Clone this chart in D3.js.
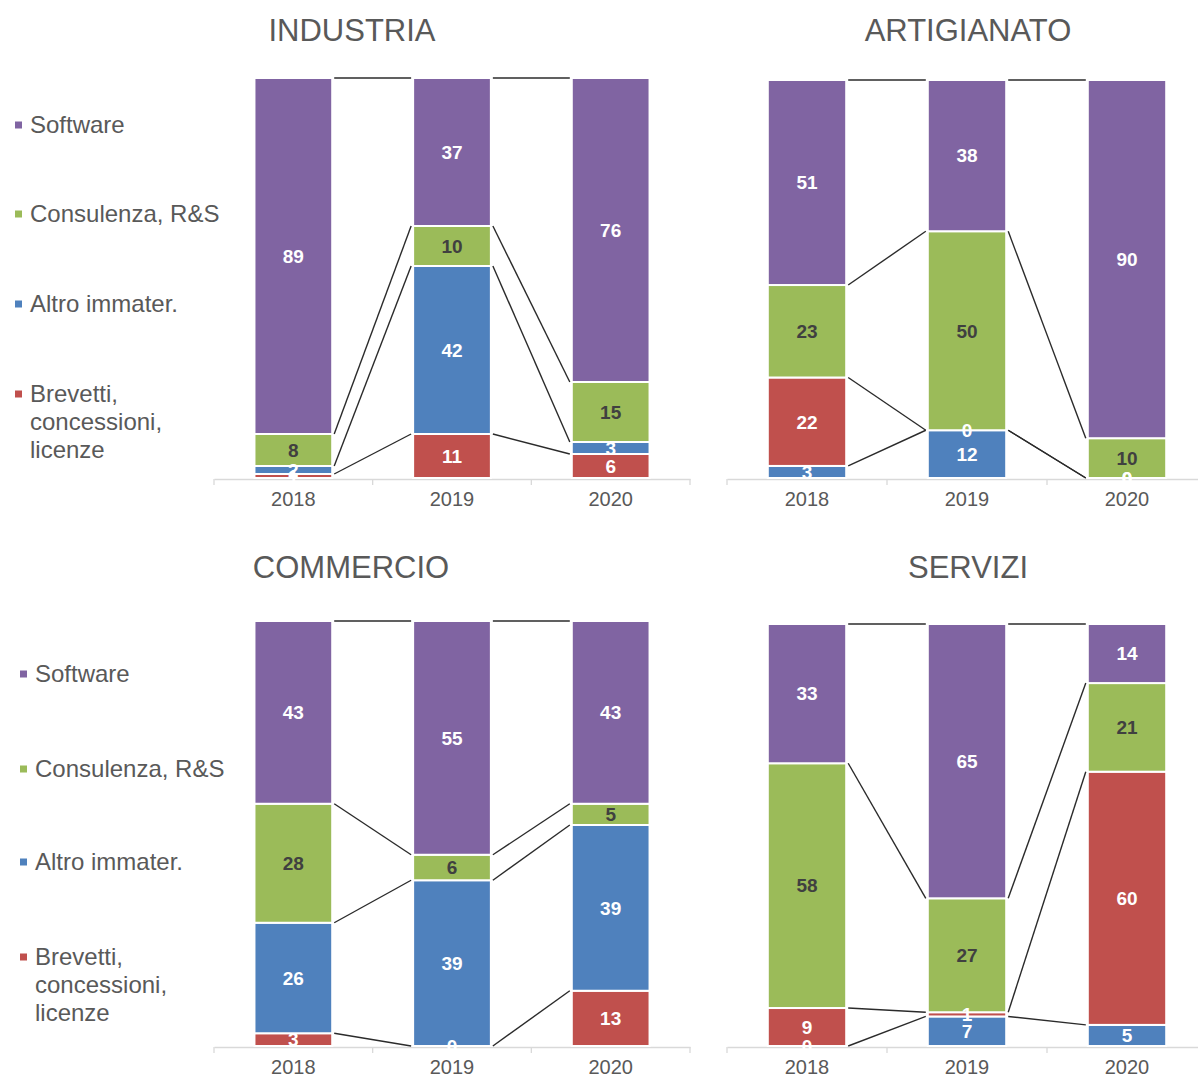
<!DOCTYPE html>
<html>
<head>
<meta charset="utf-8">
<script src="https://cdn.jsdelivr.net/npm/d3@7"></script>
<style>
  html, body { margin: 0; padding: 0; background: #ffffff; }
  svg { display: block; font-family: "Liberation Sans", Arial, sans-serif; }
</style>
</head>
<body>
<svg id="chart" width="1198" height="1077"></svg>
<script>
// Years on the x axis
const years = ["2018", "2019", "2020"];
// Sector panels
const sectors = ["INDUSTRIA", "ARTIGIANATO", "COMMERCIO", "SERVIZI"];

// Shares (%) per sector, one inner array per sector, one value per year
const softwareValues   = [[89, 37, 76], [51, 38, 90], [43, 55, 43], [33, 65, 14]];
const consulenzaValues = [[8, 10, 15],  [23, 50, 10], [28, 6, 5],   [58, 27, 21]];
const altroValues      = [[2, 42, 3],   [3, 12, 0],   [26, 39, 39], [0, 7, 5]];
const brevettiValues   = [[1, 11, 6],   [22, 0, 0],   [3, 0, 13],   [9, 1, 60]];

// Series keys and legend labels (legend order, top to bottom)
const seriesKeys = ["software", "consulenza", "altro", "brevetti"];
const seriesLabels = [["Software"], ["Consulenza, R&S"], ["Altro immater."], ["Brevetti,", "concessioni,", "licenze"]];

// Stacking order from the bottom up, per sector
const stackOrders = [
  ["brevetti", "altro", "consulenza", "software"],
  ["altro", "brevetti", "consulenza", "software"],
  ["brevetti", "altro", "consulenza", "software"],
  ["altro", "brevetti", "consulenza", "software"]
];

const valuesByKey = {
  software: softwareValues,
  consulenza: consulenzaValues,
  altro: altroValues,
  brevetti: brevettiValues
};

const colors = {
  software: "#8064A2",
  consulenza: "#9BBB59",
  altro: "#4F81BD",
  brevetti: "#C0504D"
};
const labelColors = {
  software: "#ffffff",
  consulenza: "#404040",
  altro: "#ffffff",
  brevetti: "#ffffff"
};

// Panel geometry
const layout = [
  { x0: 214, x1: 690,  yTop: 78,  yBot: 478,  titleX: 352, titleY: 41,  legend: { x: 15, ys: [125, 214, 304, 394] } },
  { x0: 727, x1: 1207, yTop: 80,  yBot: 478,  titleX: 968, titleY: 41,  legend: null },
  { x0: 214, x1: 690,  yTop: 621, yBot: 1046, titleX: 351, titleY: 578, legend: { x: 20, ys: [674, 769, 862, 957] } },
  { x0: 727, x1: 1207, yTop: 624, yBot: 1046, titleX: 968, titleY: 578, legend: null }
];

const svg = d3.select("#chart");
const textColor = "#595959";

sectors.forEach((sector, k) => {
  const L = layout[k];
  const g = svg.append("g");

  const rows = years.map((yr, i) => {
    const r = { year: yr };
    seriesKeys.forEach(key => { r[key] = valuesByKey[key][k][i]; });
    return r;
  });

  const stacked = d3.stack()
    .keys(stackOrders[k])
    .offset(d3.stackOffsetExpand)(rows);

  const x = d3.scaleBand()
    .domain(years)
    .range([L.x0, L.x1])
    .paddingInner(0.51)
    .paddingOuter(0.255);
  const y = d3.scaleLinear().domain([0, 1]).range([L.yBot, L.yTop]);
  const bw = x.bandwidth();

  // Title
  g.append("text")
    .attr("x", L.titleX)
    .attr("y", L.titleY)
    .attr("text-anchor", "middle")
    .attr("font-size", 31)
    .attr("fill", textColor)
    .text(sector);

  // Axis: baseline with category boundary ticks and year labels
  const axis = d3.axisBottom(x).tickSize(0).tickPadding(13).tickSizeOuter(0);
  const ag = g.append("g").attr("transform", `translate(0,${L.yBot + 1})`).call(axis);
  ag.select(".domain").attr("stroke", "#d9d9d9").attr("stroke-width", 1.3);
  ag.selectAll(".tick text")
    .attr("font-size", 20)
    .attr("fill", textColor)
    .attr("font-family", "Liberation Sans, Arial, sans-serif");
  d3.range(years.length + 1).forEach(i => {
    const bx = L.x0 + i * x.step();
    ag.append("line")
      .attr("x1", bx).attr("x2", bx)
      .attr("y1", 0).attr("y2", 6)
      .attr("stroke", "#d9d9d9")
      .attr("stroke-width", 1.3);
  });

  // Stacked bars
  stacked.forEach(layer => {
    g.append("g")
      .selectAll("rect")
      .data(layer)
      .join("rect")
      .attr("x", d => x(d.data.year))
      .attr("y", d => y(d[1]))
      .attr("width", bw)
      .attr("height", d => Math.max(0, y(d[0]) - y(d[1])))
      .attr("fill", colors[layer.key])
      .attr("stroke", "#ffffff")
      .attr("stroke-width", 2);
  });

  // Series lines joining the top of each segment between neighbouring bars
  const lineGen = d3.line();
  stacked.forEach(layer => {
    for (let i = 0; i < layer.length - 1; i++) {
      const a = layer[i], b = layer[i + 1];
      g.append("path")
        .attr("d", lineGen([
          [x(a.data.year) + bw + 2, y(a[1])],
          [x(b.data.year) - 2, y(b[1])]
        ]))
        .attr("fill", "none")
        .attr("stroke", "#2b2b2b")
        .attr("stroke-width", 1.4);
    }
  });

  // Value labels
  stacked.forEach(layer => {
    g.append("g")
      .selectAll("text")
      .data(layer)
      .join("text")
      .attr("x", d => x(d.data.year) + bw / 2)
      .attr("y", d => y((d[0] + d[1]) / 2))
      .attr("dy", "0.36em")
      .attr("text-anchor", "middle")
      .attr("font-size", 19)
      .attr("font-weight", "bold")
      .attr("fill", labelColors[layer.key])
      .text(d => d.data[layer.key]);
  });

  // Legend
  if (L.legend) {
    seriesKeys.forEach((key, j) => {
      const cy = L.legend.ys[j];
      g.append("rect")
        .attr("x", L.legend.x)
        .attr("y", cy - 3.5)
        .attr("width", 7)
        .attr("height", 7)
        .attr("fill", colors[key]);
      const t = g.append("text")
        .attr("x", L.legend.x + 15)
        .attr("y", cy)
        .attr("font-size", 24)
        .attr("fill", textColor);
      seriesLabels[j].forEach((line, n) => {
        t.append("tspan")
          .attr("x", L.legend.x + 15)
          .attr("dy", n === 0 ? "0.35em" : 28)
          .text(line);
      });
    });
  }
});
</script>
</body>
</html>
